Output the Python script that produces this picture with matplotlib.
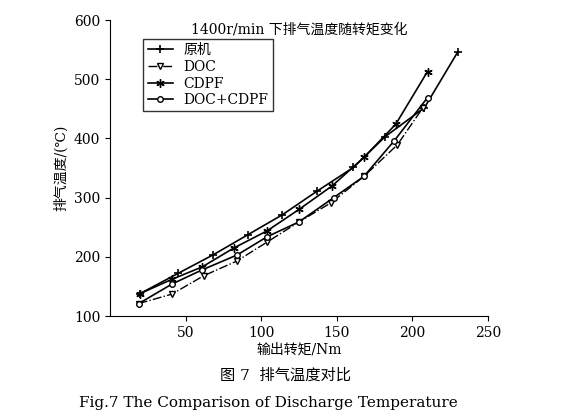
import matplotlib
matplotlib.use('Agg')
import matplotlib.pyplot as plt

plt.rcParams['font.family'] = ['DejaVu Serif', 'Noto Sans CJK SC']

x_orig = [20, 45, 68, 91, 114, 137, 161, 182, 208, 230]
y_orig = [138, 172, 203, 237, 271, 311, 351, 403, 452, 546]
x_doc = [19, 41, 62, 84, 104, 125, 146, 168, 190, 207]
y_doc = [121, 137, 168, 193, 225, 259, 291, 336, 389, 452]
x_cdpf = [20, 41, 61, 82, 104, 125, 147, 168, 189, 210]
y_cdpf = [138, 162, 183, 215, 244, 280, 320, 368, 424, 513]
x_both = [19, 41, 61, 84, 104, 125, 148, 168, 188, 210]
y_both = [121, 154, 178, 203, 234, 259, 300, 336, 396, 469]

fig = plt.figure(figsize=(5.7, 4.2), dpi=100)
ax = fig.add_axes([110/570, 1-316/420, 378/570, 296/420])
k = dict(color='black', lw=1.2, ms=6)
ax.plot(x_orig, y_orig, '-', marker='+', label='原机', mew=1.2, **k)
ax.plot(x_doc, y_doc, '-.', marker='v', mfc='white', label='DOC', ms=5, color='black', lw=1.0)
ax.plot(x_cdpf, y_cdpf, '-', marker=(6, 2, 0), label='CDPF', **k)
ax.plot(x_both, y_both, '-', marker='o', mfc='white', label='DOC+CDPF', color='black', lw=1.2, ms=4)
ax.set_xlim(0, 250)
ax.set_ylim(100, 600)
ax.set_xticks([50, 100, 150, 200, 250])
ax.set_yticks([100, 200, 300, 400, 500, 600])
for s in ['top', 'right']:
    ax.spines[s].set_visible(False)
ax.tick_params(labelsize=10)
ax.text(0.5, 0.99, '1400r/min 下排气温度随转矩变化', transform=ax.transAxes, ha='center', va='top', fontsize=10)
ax.set_xlabel('输出转矩/Nm', fontsize=10, labelpad=2)
ax.set_ylabel('排气温度/(℃)', fontsize=10)
leg = ax.legend(loc='upper left', bbox_to_anchor=(0.07, 0.96), frameon=True, fancybox=False,
                edgecolor='black', fontsize=10, handlelength=1.8, borderpad=0.3, labelspacing=0.2)
fig.text(0.5, 1-376/420, '图 7  排气温度对比', ha='center', va='center', fontsize=11)
fig.text(0.47, 1-403/420, 'Fig.7 The Comparison of Discharge Temperature', ha='center', va='center', fontsize=11)
fig.savefig('out.png')
